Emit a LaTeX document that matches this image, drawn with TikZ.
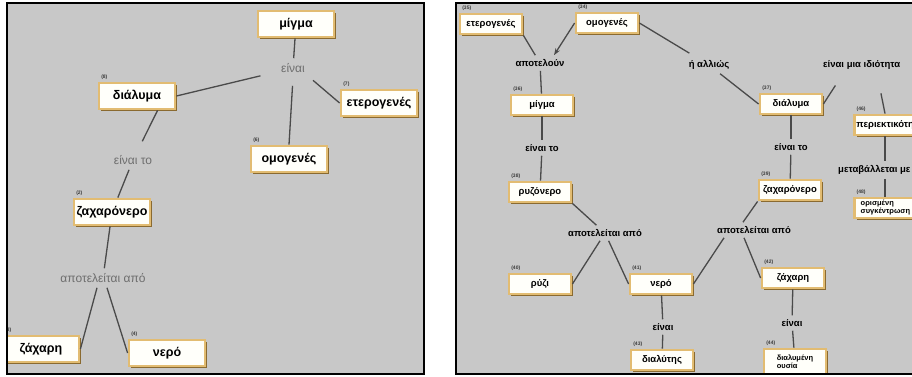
\documentclass[tikz,border=0pt]{standalone}
\usepackage{fontspec}
\setmainfont{Liberation Sans}
\usetikzlibrary{arrows.meta,shadows}
\definecolor{pg}{HTML}{C8C8C8}
\definecolor{rim}{HTML}{E2BC72}
\definecolor{shd}{HTML}{8A6A30}
\definecolor{ln}{HTML}{4A4A4A}
\definecolor{lk}{HTML}{6E6E6E}
\definecolor{tg}{HTML}{3A3A3A}
\definecolor{bx}{HTML}{FFFFFA}
\tikzset{
  concept/.style={draw=rim, fill=bx, line width=2.8pt, inner sep=2pt,
    drop shadow={shadow xshift=2.4pt, shadow yshift=-2.4pt, fill=shd, opacity=1}},
  bigbox/.style={concept, minimum width=76pt, minimum height=26pt, font=\fontsize{12.5}{14}\selectfont\bfseries},
  smallbox/.style={concept, minimum width=62pt, minimum height=20pt, font=\fontsize{9.5}{10}\selectfont\bfseries},
  greylink/.style={text=lk, font=\fontsize{12}{14}\selectfont, inner sep=5pt},
  darklink/.style={font=\fontsize{9.5}{11}\selectfont\bfseries, inner sep=4pt},
  tag/.style={font=\fontsize{5}{5}\selectfont\bfseries, text=tg, inner sep=0.5pt, anchor=south west, xshift=3pt, yshift=1pt},
  conn/.style={draw=ln, line width=1.3pt},
}
\begin{document}
\begin{tikzpicture}[x=1pt,y=-1pt]
  \useasboundingbox (0,0) rectangle (912,376);
  \fill[pg] (7,3) rectangle (424,374);
  \fill[pg] (456,3) rectangle (930,374);

  % left map
  \begin{scope}
    \clip (8,4) rectangle (423,373);
    \node[bigbox] (mix) at (296,24) {μίγμα};
    \node[greylink] (isa) at (293,68) {είναι};
    \node[bigbox, label={[tag]north west:(8)}] (sol) at (137,96) {διάλυμα};
    \node[bigbox, label={[tag]north west:(7)}] (het) at (379,103) {ετερογενές};
    \node[bigbox, label={[tag]north west:(6)}] (hom) at (289,159) {ομογενές};
    \node[greylink] (isthe) at (133,160) {είναι το};
    \node[bigbox, label={[tag]north west:(2)}] (sweet) at (112,212) {ζαχαρόνερο};
    \node[greylink] (made) at (103,278) {αποτελείται από};
    \node[bigbox, label={[tag]north west:(3)}] (sugar) at (41,349) {ζάχαρη};
    \node[bigbox, label={[tag]north west:(4)}] (water) at (167,353) {νερό};

    \draw[conn] (mix) -- (isa);
    \draw[conn, shorten <=16pt] (isa) -- (sol.east);
    \draw[conn, shorten <=8pt] (isa.south) -- (hom.north);
    \draw[conn, shorten <=4pt] (isa.south east) -- (het.west);
    \draw[conn, shorten >=10pt] (sol.-35) -- (isthe);
    \draw[conn] (isthe) -- (sweet);
    \draw[conn] (sweet) -- (made);
    \draw[conn] ([xshift=-6pt]made.south) -- (sugar.east);
    \draw[conn] ([xshift=4pt]made.south) -- (water.west);
  \end{scope}

  % right map
  \begin{scope}
    \clip (457,4) rectangle (912,373);
    \node[smallbox, label={[tag]north west:(35)}] (het2) at (491,24) {ετερογενές};
    \node[smallbox, label={[tag]north west:(34)}] (hom2) at (607,23) {ομογενές};
    \node[darklink] (form) at (540,63) {αποτελούν};
    \node[smallbox, label={[tag]north west:(36)}] (mix2) at (542,105) {μίγμα};
    \node[darklink] (isthe2) at (542,148) {είναι το};
    \node[smallbox, label={[tag]north west:(38)}] (rice) at (540,192) {ρυζόνερο};
    \node[darklink] (made2) at (605,233) {αποτελείται από};
    \node[smallbox, label={[tag]north west:(40)}] (grain) at (540,284) {ρύζι};
    \node[smallbox, label={[tag]north west:(41)}] (water2) at (661,284) {νερό};
    \node[darklink] (isb) at (663,327) {είναι};
    \node[smallbox, label={[tag]north west:(43)}] (solv) at (662,360) {διαλύτης};
    \node[darklink] (alt) at (709,65) {ή αλλιώς};
    \node[smallbox, label={[tag]north west:(37)}] (sol2) at (791,104) {διάλυμα};
    \node[darklink, anchor=west] (prop) at (819,65) {είναι μια ιδιότητα};
    \node[smallbox, anchor=west, label={[tag]north west:(46)}] (conc) at (853,125) {περιεκτικότητα};
    \node[darklink, anchor=west] (vary) at (834,170) {μεταβάλλεται με};
    \node[smallbox, anchor=west, align=left, font=\fontsize{7.5}{8}\selectfont\bfseries,
      label={[tag]north west:(48)}] (lim) at (853,208) {ορισμένη\\συγκέντρωση};
    \node[darklink] (isthe3) at (791,147) {είναι το};
    \node[smallbox, label={[tag]north west:(39)}] (sweet2) at (790,190) {ζαχαρόνερο};
    \node[darklink] (made3) at (754,230) {αποτελείται από};
    \node[smallbox, label={[tag]north west:(42)}] (sugar2) at (793,278) {ζάχαρη};
    \node[darklink] (isc) at (792,323) {είναι};
    \node[smallbox, align=left, minimum height=26pt, font=\fontsize{7.5}{8}\selectfont\bfseries,
      label={[tag]north west:(44)}] (dis) at (795,362) {διαλυμένη\\ουσία};

    \draw[conn] (het2.south east) -- (form);
    \draw[conn, -{Stealth[length=7pt,width=5pt]}] (hom2.west) -- ([xshift=14pt]form.north);
    \draw[conn, shorten >=6pt] (hom2.east) -- (alt);
    \draw[conn] (alt) -- (sol2.west);
    \draw[conn, shorten >=14pt] (sol2.east) -- ([xshift=24pt]prop.south west);
    \draw[conn, shorten <=20pt] ([xshift=58pt]prop.south west) -- ([xshift=32pt]conc.north west);
    \draw[conn] ([xshift=32pt]conc.south west) -- ([xshift=51pt]vary.north west);
    \draw[conn] ([xshift=51pt]vary.south west) -- ([xshift=32pt]lim.north west);
    \draw[conn] (form) -- (mix2);
    \draw[conn] (mix2) -- (isthe2);
    \draw[conn] (isthe2) -- (rice);
    \draw[conn] (rice.south east) -- (made2);
    \draw[conn] (made2) -- (grain.east);
    \draw[conn] (made2) -- (water2.west);
    \draw[conn] (water2) -- (isb);
    \draw[conn] (isb) -- (solv);
    \draw[conn] (sol2) -- (isthe3);
    \draw[conn] (isthe3) -- (sweet2);
    \draw[conn] (sweet2.south west) -- ([xshift=-11pt]made3.north);
    \draw[conn] ([xshift=-30pt]made3.south) -- (water2.east);
    \draw[conn] ([xshift=-10pt]made3.south) -- (sugar2.west);
    \draw[conn] (sugar2) -- (isc);
    \draw[conn] (isc) -- (dis);
  \end{scope}

  \draw[line width=2pt] (7,3) rectangle (424,374);
  \draw[line width=2pt] (456,3) rectangle (930,374);
\end{tikzpicture}
\end{document}
